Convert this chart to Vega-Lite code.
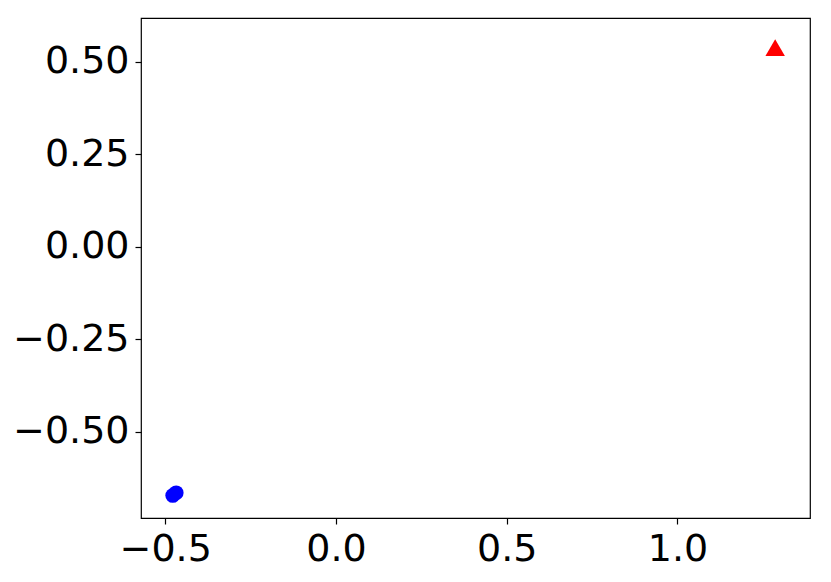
{
  "$schema": "https://vega.github.io/schema/vega-lite/v6.json",
  "width": 669,
  "height": 500,
  "autosize": "none",
  "padding": {"left": 141, "top": 18, "right": 21, "bottom": 64},
  "background": "white",
  "config": {
    "view": {"stroke": "black", "strokeWidth": 1.2},
    "axis": {
      "grid": false,
      "domain": false,
      "tickColor": "black",
      "tickSize": 6,
      "tickWidth": 1.2,
      "labelFont": "DejaVu Sans",
      "labelFontSize": 38,
      "labelColor": "black",
      "labelPadding": 6,
      "title": null
    }
  },
  "data": {
    "values": [
      {"x": -0.478, "y": -0.672, "cls": "A"},
      {"x": -0.468, "y": -0.665, "cls": "A"},
      {"x": 1.286, "y": 0.538, "cls": "B"}
    ]
  },
  "mark": {"type": "point", "filled": true, "opacity": 1},
  "encoding": {
    "x": {
      "field": "x", "type": "quantitative",
      "scale": {"domain": [-0.571, 1.388], "nice": false, "zero": false},
      "axis": {"values": [-0.5, 0, 0.5, 1.0], "format": ".1f", "labelExpr": "replace(datum.label, '-', '\u2212')"}
    },
    "y": {
      "field": "y", "type": "quantitative",
      "scale": {"domain": [-0.733, 0.618], "nice": false, "zero": false},
      "axis": {"values": [-0.5, -0.25, 0, 0.25, 0.5], "format": ".2f", "labelExpr": "replace(datum.label, '-', '\u2212')"}
    },
    "color": {
      "field": "cls", "type": "nominal",
      "scale": {"domain": ["A", "B"], "range": ["#0000ff", "#ff0000"]},
      "legend": null
    },
    "shape": {
      "field": "cls", "type": "nominal",
      "scale": {"domain": ["A", "B"], "range": ["circle", "triangle-up"]},
      "legend": null
    },
    "size": {
      "field": "cls", "type": "nominal",
      "scale": {"domain": ["A", "B"], "range": [220, 380]},
      "legend": null
    }
  }
}
